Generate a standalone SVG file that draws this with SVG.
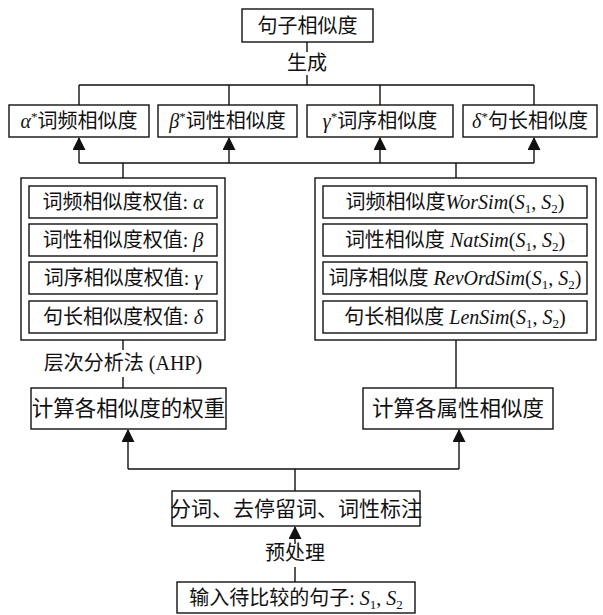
<svg xmlns="http://www.w3.org/2000/svg" width="603" height="615" viewBox="0 0 603 615">
<defs>
<style>
.box{fill:#fff;stroke:#111;stroke-width:1.4}
.ln{fill:none;stroke:#111;stroke-width:1.4}
.ar{fill:none;stroke:#111;stroke-width:1.4;marker-end:url(#ah)}
text{font-family:"Liberation Serif","Noto Sans CJK SC",serif;font-size:20px;fill:#111;text-anchor:middle}
.big{font-size:21.5px}
.seg{font-size:21px}
.it{font-style:italic}
.sm{font-size:13px}
</style>
<marker id="ah" markerUnits="userSpaceOnUse" markerWidth="13" markerHeight="13" viewBox="0 0 13 13" refX="12" refY="6.5" orient="auto">
<path d="M0,0 L13,6.5 L0,13 z" fill="#111"/>
</marker>
</defs>
<rect width="603" height="615" fill="#fff"/>

<g id="connectors">
<path class="ln" d="M307,42 V52 M307,75 V85 M79,85 H534 M79,85 V105 M229,85 V105 M380,85 V105 M534,85 V105"/>
<path class="ln" d="M79,163 H534 M123,163 V178 M456,163 V178"/>
<path class="ar" d="M79,163 V138"/>
<path class="ar" d="M229,163 V138"/>
<path class="ar" d="M380,163 V138"/>
<path class="ar" d="M534,163 V138"/>
<path class="ln" d="M123,340 V350 M123,377 V388 M456,340 V388"/>
<path class="ln" d="M128,469 H459 M295,469 V491"/>
<path class="ar" d="M128,469 V430"/>
<path class="ar" d="M459,469 V430"/>
<path class="ar" d="M295,544 V527"/>
<path class="ln" d="M295,567 V582"/>
</g>

<g id="sentence-sim">
<rect class="box" x="242" y="9" width="131" height="33"/>
<text x="307.5" y="33">句子相似度</text>
</g>
<g id="label-generate"><text x="307" y="70">生成</text></g>

<g id="alpha-sim">
<rect class="box" x="9" y="105" width="140" height="32"/>
<text x="79" y="128"><tspan class="it">α</tspan><tspan class="sm" dy="-7">*</tspan><tspan dy="7">词频相似度</tspan></text>
</g>
<g id="beta-sim">
<rect class="box" x="158" y="105" width="139" height="32"/>
<text x="227.5" y="128"><tspan class="it">β</tspan><tspan class="sm" dy="-7">*</tspan><tspan dy="7">词性相似度</tspan></text>
</g>
<g id="gamma-sim">
<rect class="box" x="307" y="105" width="146" height="32"/>
<text x="380" y="128"><tspan class="it">γ</tspan><tspan class="sm" dy="-7">*</tspan><tspan dy="7">词序相似度</tspan></text>
</g>
<g id="delta-sim">
<rect class="box" x="463" y="105" width="134" height="32"/>
<text x="530" y="128"><tspan class="it">δ</tspan><tspan class="sm" dy="-7">*</tspan><tspan dy="7">句长相似度</tspan></text>
</g>

<g id="weights-panel">
<rect class="box" x="21" y="178" width="204" height="162"/>
<rect class="box" x="29" y="186" width="188" height="32"/>
<text x="123" y="209">词频相似度权值: <tspan class="it">α</tspan></text>
<rect class="box" x="29" y="224" width="188" height="32"/>
<text x="123" y="247">词性相似度权值: <tspan class="it">β</tspan></text>
<rect class="box" x="29" y="262" width="188" height="32"/>
<text x="123" y="285">词序相似度权值: <tspan class="it">γ</tspan></text>
<rect class="box" x="29" y="301" width="188" height="32"/>
<text x="123" y="324">句长相似度权值: <tspan class="it">δ</tspan></text>
</g>

<g id="attr-panel">
<rect class="box" x="315" y="178" width="281" height="162"/>
<rect class="box" x="323" y="186" width="264" height="32"/>
<text x="455" y="209">词频相似度<tspan class="it">WorSim</tspan>(<tspan class="it">S</tspan><tspan class="sm" dy="4">1</tspan><tspan dy="-4">, </tspan><tspan class="it">S</tspan><tspan class="sm" dy="4">2</tspan><tspan dy="-4">)</tspan></text>
<rect class="box" x="323" y="224" width="264" height="32"/>
<text x="455" y="247">词性相似度 <tspan class="it">NatSim</tspan>(<tspan class="it">S</tspan><tspan class="sm" dy="4">1</tspan><tspan dy="-4">, </tspan><tspan class="it">S</tspan><tspan class="sm" dy="4">2</tspan><tspan dy="-4">)</tspan></text>
<rect class="box" x="323" y="262" width="264" height="32"/>
<text x="455" y="285">词序相似度 <tspan class="it">RevOrdSim</tspan>(<tspan class="it">S</tspan><tspan class="sm" dy="4">1</tspan><tspan dy="-4">, </tspan><tspan class="it">S</tspan><tspan class="sm" dy="4">2</tspan><tspan dy="-4">)</tspan></text>
<rect class="box" x="323" y="301" width="264" height="32"/>
<text x="455" y="324">句长相似度 <tspan class="it">LenSim</tspan>(<tspan class="it">S</tspan><tspan class="sm" dy="4">1</tspan><tspan dy="-4">, </tspan><tspan class="it">S</tspan><tspan class="sm" dy="4">2</tspan><tspan dy="-4">)</tspan></text>
</g>

<g id="label-ahp"><text x="123" y="370">层次分析法 (AHP)</text></g>

<g id="calc-weights">
<rect class="box" x="31" y="388" width="195" height="41"/>
<text class="big" x="128.5" y="416">计算各相似度的权重</text>
</g>
<g id="calc-attr">
<rect class="box" x="363" y="388" width="190" height="41"/>
<text class="big" x="458" y="416">计算各属性相似度</text>
</g>

<g id="segment">
<rect class="box" x="172" y="491" width="248" height="35"/>
<text class="seg" x="296" y="516">分词、去停留词、词性标注</text>
</g>
<g id="label-preprocess"><text x="295" y="560">预处理</text></g>

<g id="input">
<rect class="box" x="177" y="582" width="238" height="31"/>
<text x="296" y="605">输入待比较的句子: <tspan class="it">S</tspan><tspan class="sm" dy="4">1</tspan><tspan dy="-4">, </tspan><tspan class="it">S</tspan><tspan class="sm" dy="4">2</tspan></text>
</g>
</svg>
